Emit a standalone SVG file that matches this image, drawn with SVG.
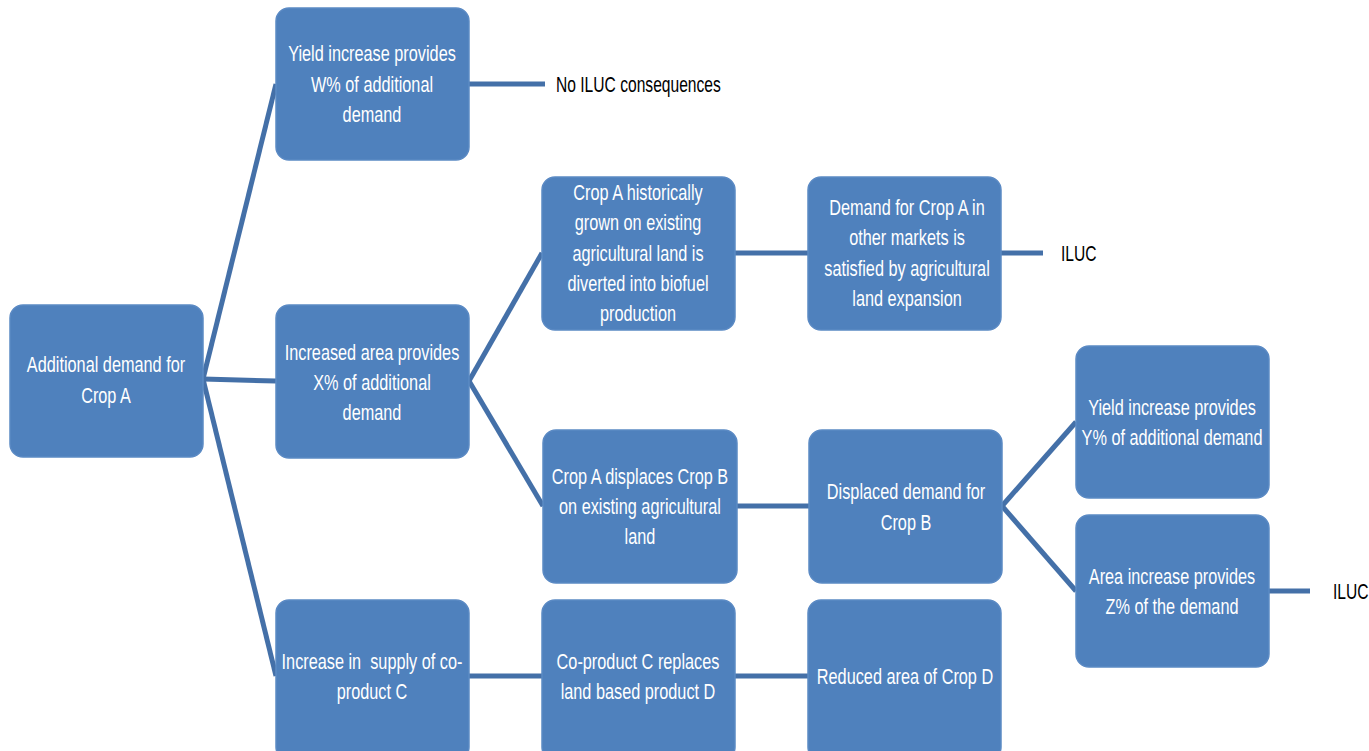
<svg xmlns="http://www.w3.org/2000/svg" width="1369" height="751" viewBox="0 0 1369 751">
<style>
.box{fill:#4F81BD;stroke:#5B8AC4;stroke-width:1.5}
.lbl{font-family:"Liberation Sans",Arial,sans-serif;font-size:22px;fill:#FFFFFF;text-anchor:middle}
.out{font-family:"Liberation Sans",Arial,sans-serif;font-size:22px;fill:#000000}
.con line{stroke:#4470A8;stroke-width:5;stroke-linecap:butt}
</style>
<rect width="1369" height="751" fill="#FFFFFF"/>
<g class="con" id="connectors">
<line x1="203" y1="379" x2="276" y2="84"/>
<line x1="203" y1="379" x2="276" y2="381"/>
<line x1="203" y1="379" x2="276" y2="676"/>
<line x1="469" y1="84" x2="545" y2="84"/>
<line x1="469" y1="381" x2="542" y2="253"/>
<line x1="469" y1="381" x2="543" y2="506"/>
<line x1="735" y1="253" x2="808" y2="253"/>
<line x1="1001" y1="253" x2="1043" y2="253"/>
<line x1="737" y1="506" x2="809" y2="506"/>
<line x1="1002" y1="506" x2="1076" y2="422"/>
<line x1="1002" y1="506" x2="1076" y2="591"/>
<line x1="1269" y1="591" x2="1310" y2="591"/>
<line x1="469" y1="676" x2="542" y2="676"/>
<line x1="735" y1="676" x2="808" y2="676"/>
</g>
<g id="n-root"><rect class="box" x="10" y="305" width="193" height="152" rx="13"/>
<text class="lbl" transform="matrix(0.74 0 0 1 106 0)"><tspan x="0" y="372">Additional demand for</tspan><tspan x="0" y="403">Crop A</tspan></text></g>
<g id="n-w"><rect class="box" x="276" y="8" width="193" height="152" rx="13"/>
<text class="lbl" transform="matrix(0.74 0 0 1 372 0)"><tspan x="0" y="61">Yield increase provides</tspan><tspan x="0" y="92">W% of additional</tspan><tspan x="0" y="122">demand</tspan></text></g>
<g id="t-noiluc"><text class="out" transform="matrix(0.71 0 0 1 556 0)" x="0" y="92">No ILUC consequences</text></g>
<g id="n-x"><rect class="box" x="276" y="305" width="193" height="153" rx="13"/>
<text class="lbl" transform="matrix(0.74 0 0 1 372 0)"><tspan x="0" y="360">Increased area provides</tspan><tspan x="0" y="390">X% of additional</tspan><tspan x="0" y="420">demand</tspan></text></g>
<g id="n-c"><rect class="box" x="276" y="600" width="193" height="160" rx="13"/>
<text class="lbl" transform="matrix(0.74 0 0 1 372 0)"><tspan x="0" y="669" xml:space="preserve">Increase in  supply of co-</tspan><tspan x="0" y="699">product C</tspan></text></g>
<g id="n-hist"><rect class="box" x="542" y="177" width="193" height="153" rx="13"/>
<text class="lbl" transform="matrix(0.74 0 0 1 638 0)"><tspan x="0" y="200">Crop A historically</tspan><tspan x="0" y="230">grown on existing</tspan><tspan x="0" y="261">agricultural land is</tspan><tspan x="0" y="291">diverted into biofuel</tspan><tspan x="0" y="321">production</tspan></text></g>
<g id="n-demand"><rect class="box" x="808" y="177" width="193" height="153" rx="13"/>
<text class="lbl" transform="matrix(0.74 0 0 1 907 0)"><tspan x="0" y="215">Demand for Crop A in</tspan><tspan x="0" y="245">other markets is</tspan><tspan x="0" y="276">satisfied by agricultural</tspan><tspan x="0" y="306">land expansion</tspan></text></g>
<g id="t-iluc1"><text class="out" transform="matrix(0.71 0 0 1 1061 0)" x="0" y="261">ILUC</text></g>
<g id="n-displaces"><rect class="box" x="543" y="430" width="194" height="153" rx="13"/>
<text class="lbl" transform="matrix(0.74 0 0 1 640 0)"><tspan x="0" y="484">Crop A displaces Crop B</tspan><tspan x="0" y="514">on existing agricultural</tspan><tspan x="0" y="544">land</tspan></text></g>
<g id="n-displaced"><rect class="box" x="809" y="430" width="193" height="153" rx="13"/>
<text class="lbl" transform="matrix(0.74 0 0 1 906 0)"><tspan x="0" y="499">Displaced demand for</tspan><tspan x="0" y="530">Crop B</tspan></text></g>
<g id="n-y"><rect class="box" x="1076" y="346" width="193" height="152" rx="13"/>
<text class="lbl" transform="matrix(0.74 0 0 1 1172 0)"><tspan x="0" y="415">Yield increase provides</tspan><tspan x="0" y="445">Y% of additional demand</tspan></text></g>
<g id="n-z"><rect class="box" x="1076" y="515" width="193" height="152" rx="13"/>
<text class="lbl" transform="matrix(0.74 0 0 1 1172 0)"><tspan x="0" y="584">Area increase provides</tspan><tspan x="0" y="614">Z% of the demand</tspan></text></g>
<g id="t-iluc2"><text class="out" transform="matrix(0.71 0 0 1 1333 0)" x="0" y="599">ILUC</text></g>
<g id="n-coprod"><rect class="box" x="542" y="600" width="193" height="160" rx="13"/>
<text class="lbl" transform="matrix(0.74 0 0 1 638 0)"><tspan x="0" y="669">Co-product C replaces</tspan><tspan x="0" y="699">land based product D</tspan></text></g>
<g id="n-reduced"><rect class="box" x="808" y="600" width="193" height="160" rx="13"/>
<text class="lbl" transform="matrix(0.74 0 0 1 905 0)"><tspan x="0" y="684">Reduced area of Crop D</tspan></text></g>
</svg>
